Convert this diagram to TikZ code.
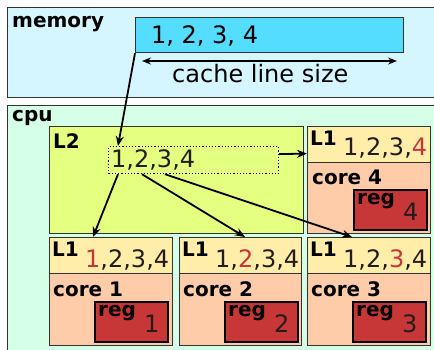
\documentclass[tikz,border=0pt]{standalone}
\usepackage{fontspec}
\setmainfont{DejaVu Sans}
\usetikzlibrary{arrows.meta}

\definecolor{memfill}{HTML}{D5F6FF}
\definecolor{linefill}{HTML}{55DDFF}
\definecolor{cpufill}{HTML}{D5FFE6}
\definecolor{ltwofill}{HTML}{E5FF80}
\definecolor{lonefill}{HTML}{FFEEAA}
\definecolor{corefill}{HTML}{FFCCAA}
\definecolor{regfill}{HTML}{C83737}
\definecolor{hot}{HTML}{C83737}
\definecolor{dark}{HTML}{241C1C}

\tikzset{
  box/.style={draw=black!80, line width=1.2pt, anchor=north west, inner sep=0pt},
  lbl/.style={anchor=base west, inner sep=0pt, font=\bfseries\fontsize{20}{24}\selectfont},
  val/.style={anchor=base west, inner sep=0pt, text=dark, font=\fontsize{24}{28}\selectfont},
  arr/.style={-{Stealth[length=10pt,width=8pt]}, line width=1.8pt},
}

\begin{document}
\begin{tikzpicture}[x=1pt,y=-1pt]
\useasboundingbox (0,0) rectangle (434,349);
\clip (0,0) rectangle (434,349);

% memory
\node[box, fill=memfill, minimum width=440, minimum height=90] (memory) at (7,7) {};
\node[lbl] (memlabel) at (12,27) {memory};
\node[box, fill=linefill, minimum width=268, minimum height=35] (cline) at (135,17) {};
\node[val, text=black] (clinevals) at (151,43) {1, 2, 3, 4};
\coordinate (spanl) at (142,61);
\coordinate (spanr) at (397,61);
\draw[{Stealth[length=9pt,width=7pt]}-{Stealth[length=9pt,width=7pt]}, line width=1.4pt] (spanl) -- (spanr);
\node[val, text=black] (spanlabel) at (172,82) {cache line size};

% cpu
\node[box, fill=cpufill, minimum width=440, minimum height=260] (cpu) at (7,105) {};
\node[lbl] (cpulabel) at (12,121) {cpu};
\node[box, fill=ltwofill, minimum width=254, minimum height=107] (ltwo) at (49,126) {};
\node[lbl] (ltwolabel) at (53,148) {L2};
\node[box, draw=black, dotted, minimum width=170, minimum height=27] (dots) at (108,146) {};
\node[val] (dotsvals) at (111,167) {1,2,3,4};

% core 1
\begin{scope}[shift={(49,237)}]
\node[box, fill=lonefill, minimum width=123, minimum height=36] (l1a) at (0,0) {};
\node[box, fill=corefill, minimum width=123, minimum height=72] (corea) at (0,36) {};
\node[box, draw=black, line width=1.6pt, fill=regfill, minimum width=73, minimum height=40] (rega) at (45,64) {};
\node[lbl] (l1alabel) at (3,19.5) {L1};
\node[val] (l1avals) at (36,30) {\textcolor{hot}{1},2,3,4};
\node[lbl] (corealabel) at (4,59) {core 1};
\node[lbl] (regalabel) at (49,79) {reg};
\node[val] (regaval) at (95,95) {1};
\end{scope}

% core 2
\begin{scope}[shift={(179,237)}]
\node[box, fill=lonefill, minimum width=122, minimum height=36] (l1b) at (0,0) {};
\node[box, fill=corefill, minimum width=122, minimum height=72] (coreb) at (0,36) {};
\node[box, draw=black, line width=1.6pt, fill=regfill, minimum width=73, minimum height=40] (regb) at (45,64) {};
\node[lbl] (l1blabel) at (3,19.5) {L1};
\node[val] (l1bvals) at (36,30) {1,\textcolor{hot}{2},3,4};
\node[lbl] (coreblabel) at (4,59) {core 2};
\node[lbl] (regblabel) at (49,79) {reg};
\node[val] (regbval) at (95,95) {2};
\end{scope}

% core 3
\begin{scope}[shift={(307,237)}]
\node[box, fill=lonefill, minimum width=123, minimum height=36] (l1c) at (0,0) {};
\node[box, fill=corefill, minimum width=123, minimum height=72] (corec) at (0,36) {};
\node[box, draw=black, line width=1.6pt, fill=regfill, minimum width=73, minimum height=40] (regc) at (45,64) {};
\node[lbl] (l1clabel) at (3,19.5) {L1};
\node[val] (l1cvals) at (36,30) {1,2,\textcolor{hot}{3},4};
\node[lbl] (coreclabel) at (4,59) {core 3};
\node[lbl] (regclabel) at (49,79) {reg};
\node[val] (regcval) at (95,95) {3};
\end{scope}

% core 4
\begin{scope}[shift={(307,126)}]
\node[box, fill=lonefill, minimum width=123, minimum height=36] (l1d) at (0,0) {};
\node[box, fill=corefill, minimum width=123, minimum height=71] (cored) at (0,36) {};
\node[box, draw=black, line width=1.6pt, fill=regfill, minimum width=73, minimum height=40] (regd) at (46,63) {};
\node[lbl] (l1dlabel) at (3,19.5) {L1};
\node[val] (l1dvals) at (36,29) {1,2,3,\textcolor{hot}{4}};
\node[lbl] (coredlabel) at (5,58) {core 4};
\node[lbl] (regdlabel) at (50,78) {reg};
\node[val] (regdval) at (96,94) {4};
\end{scope}

% transfers
\draw[arr] (cline.south west) -- ([xshift=10]dots.north west);
\draw[arr] ([xshift=10]dots.south west) -- ([xshift=44]l1a.north west);
\draw[arr] ([xshift=34]dots.south west) -- ([xshift=66]l1b.north west);
\draw[arr] ([xshift=57]dots.south west) -- ([xshift=45]l1c.north west);
\draw[arr] ([yshift=6]dots.east) -- ([yshift=-9]l1d.west);

\end{tikzpicture}
\end{document}
